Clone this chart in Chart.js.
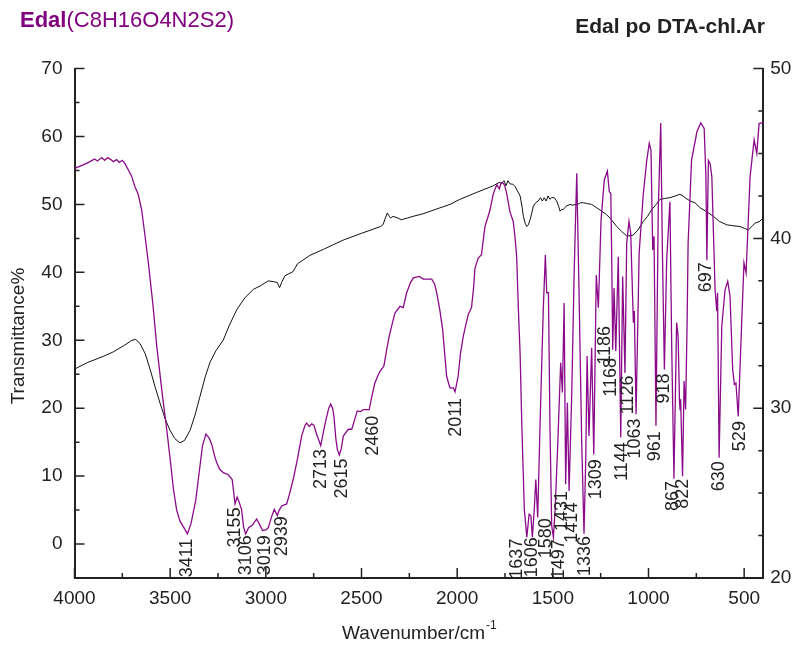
<!DOCTYPE html>
<html>
<head>
<meta charset="utf-8">
<script src="https://cdn.jsdelivr.net/npm/chart.js@4.4.0/dist/chart.umd.min.js"></script>
<style>
  html, body { margin: 0; padding: 0; background: #fff; }
  #IrChart { display: block; }
</style>
</head>
<body>
<canvas id="IrChart" width="800" height="647"></canvas>
<script>
// Edal (purple, left axis)
var edalWn = [4000, 3957, 3919, 3895, 3880, 3858, 3842, 3827, 3810, 3797, 3780, 3766, 3750, 3736, 3719, 3702, 3684, 3667, 3649, 3632,
  3614, 3591, 3570, 3541, 3518, 3496, 3483, 3466, 3449, 3426, 3410, 3391, 3379, 3366, 3353, 3331, 3313, 3296, 3283, 3266,
  3257, 3241, 3222, 3196, 3176, 3161, 3150, 3141, 3127, 3116, 3106, 3090, 3070, 3048, 3035, 3017, 3000, 2987, 2970, 2956,
  2940, 2930, 2917, 2891, 2875, 2857, 2835, 2813, 2795, 2787, 2773, 2760, 2749, 2735, 2713, 2699, 2685, 2671, 2661, 2651,
  2644, 2634, 2626, 2616, 2606, 2595, 2579, 2569, 2551, 2534, 2522, 2504, 2491, 2460, 2444, 2430, 2414, 2404, 2383, 2369,
  2355, 2339, 2325, 2299, 2282, 2264, 2244, 2229, 2198, 2177, 2133, 2118, 2107, 2091, 2076, 2055, 2038, 2020, 2011, 1995,
  1983, 1968, 1953, 1942, 1925, 1915, 1907, 1890, 1873, 1855, 1829, 1811, 1793, 1780, 1770, 1759, 1752, 1741, 1724, 1707,
  1697, 1689, 1680, 1671, 1662, 1649, 1636, 1624, 1615, 1607, 1597, 1589, 1579, 1567, 1550, 1539, 1532, 1523, 1515, 1506,
  1497, 1488, 1474, 1459, 1450, 1441, 1433, 1424, 1415, 1401, 1389, 1375, 1363, 1349, 1337, 1328, 1321, 1311, 1297, 1286,
  1273, 1262, 1248, 1231, 1215, 1205, 1197, 1192, 1187, 1180, 1171, 1158, 1145, 1135, 1123, 1114, 1102, 1093, 1079, 1074,
  1065, 1049, 1027, 1009, 996, 987, 978, 971, 961, 949, 936, 928, 917, 905, 888, 879, 867, 853, 845, 838,
  835, 832, 822, 814, 806, 798, 793, 775, 747, 727, 709, 700, 695, 687, 678, 669, 652, 643, 639, 631,
  617, 600, 586, 574, 560, 551, 543, 531, 513, 501, 490, 469, 448, 434, 422, 408, 400];
var edalT = [55.3, 55.8, 56.3, 56.7, 56.4, 56.9, 56.5, 56.9, 56.6, 56.3, 56.6, 56.2, 56.5, 56.0, 55.1, 54.2, 52.6, 51.5, 49.2, 45.5,
  41.4, 35.5, 29.1, 22.0, 16.9, 11.5, 8.1, 5.0, 3.4, 2.3, 1.5, 3.0, 4.7, 6.5, 9.5, 14.5, 16.2, 15.6, 14.7, 12.8,
  12.0, 11.0, 10.5, 10.2, 9.5, 5.9, 6.9, 6.3, 5.1, 2.5, 1.5, 2.4, 2.8, 3.7, 3.0, 2.0, 2.1, 2.4, 4.0, 5.1,
  4.2, 5.0, 5.6, 5.9, 7.5, 9.5, 12.5, 15.9, 17.5, 17.8, 17.3, 17.7, 17.5, 16.2, 14.5, 16.5, 18.4, 20.0, 20.6, 20.0,
  18.8, 15.5, 13.9, 13.1, 14.0, 15.9, 16.5, 16.9, 16.9, 18.5, 19.6, 19.5, 19.8, 19.8, 22.0, 23.7, 24.8, 25.4, 26.2, 28.5,
  30.6, 32.5, 34.0, 35.0, 34.8, 37.0, 38.5, 39.2, 39.4, 39.0, 39.0, 38.3, 37.0, 34.5, 31.6, 24.7, 23.0, 23.0, 22.4, 24.7,
  28.0, 30.6, 32.5, 33.8, 34.8, 37.5, 40.6, 42.1, 42.6, 46.7, 49.1, 51.6, 52.9, 52.3, 53.2, 53.1, 52.8, 51.6, 48.9, 47.5,
  45.0, 42.3, 34.5, 28.0, 17.4, 5.1, 1.0, 4.4, 4.2, 1.0, 5.1, 9.5, 3.9, 17.4, 34.5, 42.6, 37.0, 37.0, 17.4, 2.7,
  1.0, 5.1, 14.9, 26.7, 22.3, 35.5, 8.8, 20.8, 7.8, 22.3, 39.4, 54.6, 37.0, 14.9, 1.5, 12.5, 27.7, 15.9, 28.9, 13.2,
  39.6, 34.8, 47.7, 53.6, 54.9, 51.9, 51.6, 41.8, 28.6, 37.7, 28.4, 42.3, 15.7, 39.4, 25.2, 44.3, 47.5, 45.8, 32.6, 34.3,
  19.1, 42.8, 51.6, 56.5, 59.0, 58.0, 43.3, 45.3, 17.4, 49.2, 62.0, 44.3, 25.7, 41.8, 50.4, 29.6, 9.6, 32.6, 30.5, 21.0,
  19.8, 21.3, 10.0, 24.0, 19.8, 33.0, 44.3, 56.5, 60.7, 62.0, 61.2, 54.1, 41.8, 56.5, 56.0, 54.1, 37.4, 34.3, 37.0, 12.7,
  32.1, 37.4, 38.7, 36.5, 25.7, 23.5, 23.7, 18.8, 32.6, 41.4, 39.9, 54.1, 59.5, 57.5, 61.9, 62.0, 62.0];

// Edal po DTA-chl.Ar (black, right axis)
var dtaWn = [4000, 3930, 3850, 3800, 3740, 3700, 3680, 3657, 3630, 3605, 3580, 3553, 3527, 3501, 3475, 3449, 3425, 3396, 3370, 3344,
  3318, 3292, 3260, 3223, 3190, 3152, 3110, 3065, 3030, 2987, 2960, 2940, 2928, 2918, 2900, 2857, 2845, 2835, 2770, 2700,
  2596, 2500, 2400, 2388, 2375, 2365, 2355, 2348, 2335, 2310, 2292, 2260, 2230, 2178, 2140, 2090, 2038, 1986, 1900, 1811,
  1780, 1767, 1755, 1745, 1735, 1722, 1710, 1697, 1685, 1671, 1660, 1654, 1645, 1636, 1628, 1619, 1610, 1602, 1590, 1576,
  1565, 1555, 1545, 1535, 1525, 1515, 1506, 1493, 1480, 1470, 1462, 1455, 1445, 1430, 1410, 1395, 1384, 1370, 1355, 1340,
  1320, 1297, 1270, 1244, 1220, 1201, 1166, 1140, 1114, 1095, 1079, 1055, 1027, 1005, 983, 960, 940, 915, 888, 860,
  836, 820, 809, 783, 757, 730, 700, 661, 630, 591, 560, 522, 500, 478, 460, 443, 420, 400];
var dtaT = [32.3, 32.7, 33.05, 33.3, 33.7, 34.0, 34.05, 33.8, 33.2, 32.3, 31.3, 30.3, 29.4, 28.7, 28.2, 27.96, 28.1, 28.7, 29.6, 30.7,
  31.8, 32.7, 33.4, 34.0, 34.9, 35.8, 36.5, 37.0, 37.2, 37.5, 37.45, 37.4, 37.1, 37.4, 37.8, 38.05, 38.3, 38.5, 39.0, 39.35,
  39.9, 40.3, 40.7, 40.8, 41.2, 41.5, 41.3, 41.2, 41.3, 41.2, 41.1, 41.2, 41.3, 41.45, 41.6, 41.8, 42.0, 42.3, 42.7, 43.1,
  43.3, 43.25, 43.4, 43.1, 43.4, 43.2, 43.2, 43.05, 42.8, 42.5, 41.8, 41.3, 40.9, 40.7, 40.8, 41.1, 41.5, 41.9, 42.1, 42.2,
  42.4, 42.2, 42.4, 42.2, 42.5, 42.3, 42.4, 42.4, 42.2, 41.9, 41.6, 41.7, 41.7, 41.9, 42.0, 41.95, 42.0, 42.0, 42.1, 42.1,
  42.05, 42.0, 41.8, 41.6, 41.4, 41.2, 40.7, 40.4, 40.15, 40.15, 40.2, 40.5, 41.0, 41.3, 41.7, 42.0, 42.3, 42.35, 42.4, 42.5,
  42.6, 42.5, 42.4, 42.2, 42.1, 41.8, 41.6, 41.3, 41.0, 40.8, 40.75, 40.7, 40.6, 40.5, 40.7, 40.9, 41.0, 41.2];

// peak labels: text, where the label sits (wavenumber) and the level its upper end touches (left axis)
var peakText = ['3411', '3155', '3106', '3019', '2939', '2713', '2615', '2460', '2011', '1637', '1606', '1580', '1497', '1431',
  '1414', '1336', '1309', '1186', '1168', '1144', '1126', '1063', '961', '918', '867', '822', '697', '630', '529'];
var peakWn = [3410, 3161, 3104, 3004, 2917, 2712, 2603, 2438, 2008, 1689, 1607, 1537, 1469, 1453,
  1401, 1332, 1276, 1225, 1197, 1140, 1105, 1070, 966, 917, 870, 818, 699, 630, 522];
var peakT = [0.8, 5.4, 1.3, 1.3, 4.1, 14.0, 12.6, 18.9, 21.5, 0.8, 1.0, 3.8, 0.7, 7.8,
  6.1, 1.2, 12.5, 32.1, 27.4, 15.0, 24.8, 18.5, 16.6, 25.1, 9.3, 9.6, 41.5, 12.2, 18.1];

var FONT = '"Liberation Sans", Arial, sans-serif';
var PURPLE = '#8a0a8a';
var INK = '#222';

// inward tick marks, 10px on labelled values, 5px on the rest
const innerTicks = {
  id: 'innerTicks',
  afterDraw(chart) {
    const ctx = chart.ctx, a = chart.chartArea;
    const sc = chart.scales;
    ctx.save();
    ctx.strokeStyle = INK;
    ctx.lineWidth = 1.5;
    ctx.beginPath();
    sc.x.ticks.forEach(t => {
      if (t.value % 250 !== 0) return;
      const px = sc.x.getPixelForValue(t.value);
      const len = t.value % 500 === 0 ? 10 : 5;
      ctx.moveTo(px, a.bottom); ctx.lineTo(px, a.bottom - len);
    });
    sc.y.ticks.forEach(t => {
      const py = sc.y.getPixelForValue(t.value);
      const len = t.value % 10 === 0 ? 10 : 5;
      ctx.moveTo(a.left, py); ctx.lineTo(a.left + len, py);
    });
    sc.y1.ticks.forEach(t => {
      const py = sc.y1.getPixelForValue(t.value);
      const len = t.value % 10 === 0 ? 10 : 5;
      ctx.moveTo(a.right, py); ctx.lineTo(a.right - len, py);
    });
    ctx.stroke();
    ctx.restore();
  }
};

// titles, axis names and the peak numbers
const textLayer = {
  id: 'textLayer',
  afterDraw(chart) {
    const ctx = chart.ctx, a = chart.chartArea;
    const x = chart.scales.x, y = chart.scales.y;
    ctx.save();
    ctx.textBaseline = 'middle';

    // left title
    ctx.fillStyle = '#800080';
    ctx.textAlign = 'left';
    ctx.font = 'bold 22px ' + FONT;
    ctx.fillText('Edal', 20, 21);
    const w = ctx.measureText('Edal').width;
    ctx.font = '22px ' + FONT;
    ctx.fillText('(C8H16O4N2S2)', 20 + w, 21);

    // right title
    ctx.fillStyle = INK;
    ctx.textAlign = 'right';
    ctx.font = 'bold 21px ' + FONT;
    ctx.fillText('Edal po DTA-chl.Ar', 765, 27);

    // x axis name with superscript
    ctx.textAlign = 'left';
    ctx.font = '19px ' + FONT;
    const main = 'Wavenumber/cm';
    const mw = ctx.measureText(main).width;
    ctx.font = '12px ' + FONT;
    const sw = ctx.measureText('-1').width;
    const x0 = (a.left + a.right) / 2 - (mw + sw) / 2;
    ctx.font = '19px ' + FONT;
    ctx.fillText(main, x0, 634);
    ctx.font = '12px ' + FONT;
    ctx.fillText('-1', x0 + mw + 1, 626);

    // y axis name
    ctx.save();
    ctx.translate(19, 336);
    ctx.rotate(-Math.PI / 2);
    ctx.textAlign = 'center';
    ctx.font = '19px ' + FONT;
    ctx.fillText('Transmittance%', 0, 0);
    ctx.restore();

    // peak numbers, reading upwards
    ctx.font = '18px ' + FONT;
    ctx.fillStyle = INK;
    peakText.forEach((txt, i) => {
      ctx.save();
      ctx.translate(x.getPixelForValue(peakWn[i]), y.getPixelForValue(peakT[i]));
      ctx.rotate(-Math.PI / 2);
      ctx.textAlign = 'right';
      ctx.fillText(txt, 0, 0);
      ctx.restore();
    });
    ctx.restore();
  }
};

document.addEventListener('DOMContentLoaded', () => {
  var ctx = document.getElementById('IrChart');
  var tickFont = { family: FONT, size: 19 };

  new Chart(ctx, {
    type: 'line',
    data: {
      datasets: [{
        label: 'Edal',
        data: edalWn.map((w, i) => ({ x: w, y: edalT[i] })),
        borderColor: PURPLE,
        borderWidth: 1.3,
        pointRadius: 0,
        tension: 0,
        yAxisID: 'y'
      }, {
        label: 'Edal po DTA-chl.Ar',
        data: dtaWn.map((w, i) => ({ x: w, y: dtaT[i] })),
        borderColor: '#111',
        borderWidth: 1,
        pointRadius: 0,
        tension: 0,
        yAxisID: 'y1'
      }]
    },
    options: {
      responsive: false,
      animation: false,
      events: [],
      layout: { padding: { top: 68.6, left: 0, right: 0, bottom: 0 } },
      scales: {
        x: {
          type: 'linear',
          reverse: true,
          min: 400,
          max: 4000,
          border: { display: true, color: INK, width: 2 },
          grid: { drawOnChartArea: false, drawTicks: false },
          ticks: {
            stepSize: 250,
            includeBounds: false,
            autoSkip: false,
            maxRotation: 0,
            padding: 9,
            color: INK,
            font: tickFont,
            callback: v => (v % 500 === 0 ? v : '')
          },
          afterFit: s => { s.height = 69; }
        },
        y: {
          position: 'left',
          min: -5,
          max: 70,
          border: { display: true, color: INK, width: 2 },
          grid: { drawOnChartArea: false, drawTicks: false },
          ticks: {
            stepSize: 5,
            autoSkip: false,
            padding: 12,
            color: INK,
            font: tickFont,
            callback: v => (v % 10 === 0 ? v : '')
          },
          afterFit: s => { s.width = 74.5; }
        },
        y1: {
          position: 'right',
          min: 20,
          max: 50,
          border: { display: true, color: INK, width: 2 },
          grid: { drawOnChartArea: false, drawTicks: false },
          ticks: {
            stepSize: 2.5,
            autoSkip: false,
            padding: 7,
            color: INK,
            font: tickFont,
            callback: v => (v % 10 === 0 ? v : '')
          },
          afterFit: s => { s.width = 36.7; }
        }
      },
      plugins: {
        legend: { display: false },
        title: { display: false },
        tooltip: { enabled: false }
      }
    },
    plugins: [innerTicks, textLayer]
  });
});
</script>
</body>
</html>
